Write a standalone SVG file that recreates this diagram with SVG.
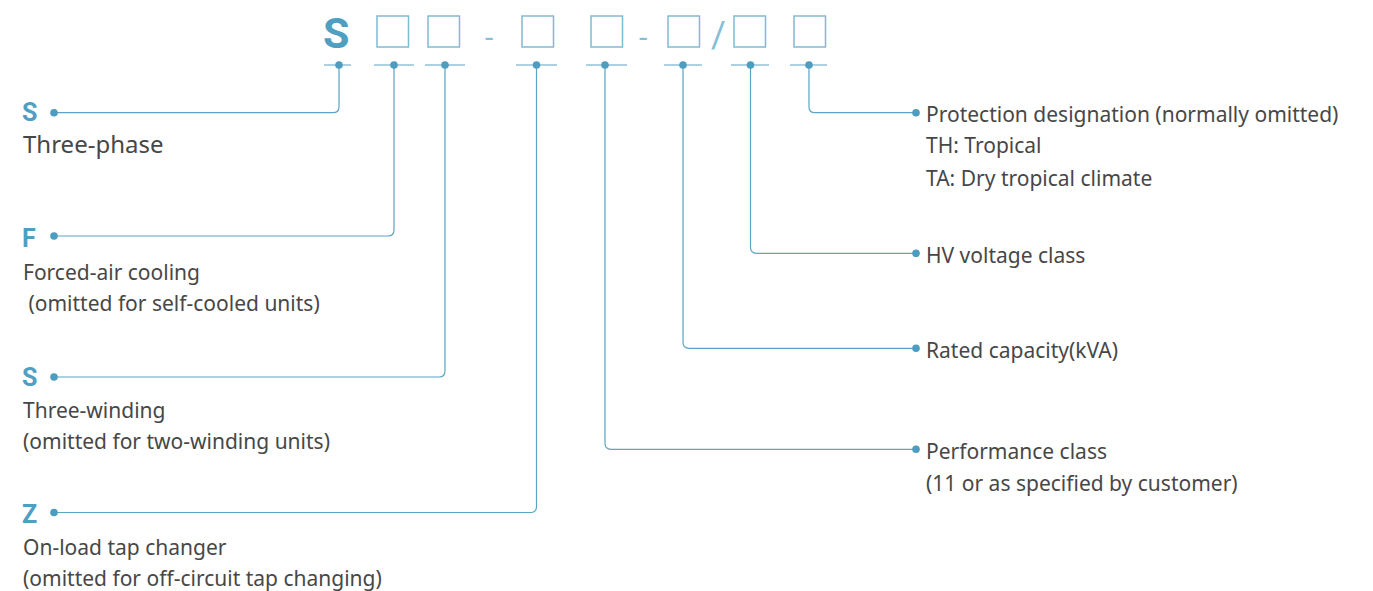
<svg xmlns="http://www.w3.org/2000/svg" width="1373" height="591" viewBox="0 0 1373 591">
<style>
.code{font-family:Roboto,"Liberation Sans",sans-serif;font-weight:700;fill:#4f9fc2}
.sep{font-family:Roboto,"Liberation Sans",sans-serif;fill:#86bfd6}
.box{fill:none;stroke:#7fbad3;stroke-width:1.5}
.tick{stroke:#5ca4c4;stroke-width:1.2;fill:none}
.conn{stroke:#5ca4c4;stroke-width:1.2;fill:none}
.dot{fill:#4d9dc0}
.key{font-family:Roboto,"Liberation Sans",sans-serif;font-weight:700;font-size:25px;fill:#4f9fc2}
.lbl{font-family:"Noto Sans","Liberation Sans",sans-serif;font-size:21px;fill:#474747}
.big{font-size:24px}
</style>
<rect width="1373" height="591" fill="#ffffff"/>
<g id="model-code">
<text class="code" x="323" y="48" font-size="43">S</text>
<rect class="box" x="377" y="16" width="31.5" height="31"/>
<rect class="box" x="428" y="16" width="31.5" height="31"/>
<text class="sep" x="485" y="48" font-size="30">-</text>
<rect class="box" x="522" y="16" width="31.5" height="31"/>
<rect class="box" x="591" y="16" width="31.5" height="31"/>
<text class="sep" x="639" y="48" font-size="30">-</text>
<rect class="box" x="668" y="16" width="31.5" height="31"/>
<text class="sep" x="711" y="47" font-size="36">/</text>
<rect class="box" x="734" y="16" width="31.5" height="31"/>
<rect class="box" x="794" y="16" width="31.5" height="31"/>
</g>
<g id="connectors">
<path class="tick" d="M324 65H351M374 65H414M425 65H465M516 65H557M586 65H627M664 65H702M731 65H769M790 65H827"/>
<path class="conn" d="M339 65V106.7Q339 112.7 333 112.7H54"/>
<path class="conn" d="M394 65V230Q394 236 388 236H54"/>
<path class="conn" d="M445 65V371Q445 377 439 377H54"/>
<path class="conn" d="M536.5 65V506.5Q536.5 512.5 530.5 512.5H54"/>
<path class="conn" d="M605 65V443.3Q605 449.3 611 449.3H916"/>
<path class="conn" d="M683 65V342.3Q683 348.3 689 348.3H916"/>
<path class="conn" d="M750.5 65V247.3Q750.5 253.3 756.5 253.3H916"/>
<path class="conn" d="M809 65V106.7Q809 112.7 815 112.7H916"/>
<circle class="dot" cx="339" cy="65" r="3.8"/>
<circle class="dot" cx="394" cy="65" r="3.8"/>
<circle class="dot" cx="445" cy="65" r="3.8"/>
<circle class="dot" cx="536.5" cy="65" r="3.8"/>
<circle class="dot" cx="605" cy="65" r="3.8"/>
<circle class="dot" cx="683" cy="65" r="3.8"/>
<circle class="dot" cx="750.5" cy="65" r="3.8"/>
<circle class="dot" cx="809" cy="65" r="3.8"/>
</g>
<g id="node-s-three-phase">
<circle class="dot" cx="54" cy="112.7" r="3.8"/>
<text class="key" x="22" y="120.7">S</text>
<text class="lbl big" x="23" y="153.3">Three-phase</text>
</g>
<g id="node-f-forced-air">
<circle class="dot" cx="54" cy="236" r="3.8"/>
<text class="key" x="22" y="246.7">F</text>
<text class="lbl" x="23" y="280">Forced-air cooling</text>
<text class="lbl" x="23" y="310.7" xml:space="preserve"> (omitted for self-cooled units)</text>
</g>
<g id="node-s-three-winding">
<circle class="dot" cx="54" cy="377" r="3.8"/>
<text class="key" x="22" y="386">S</text>
<text class="lbl" x="23" y="418.3">Three-winding</text>
<text class="lbl" x="23" y="449.3">(omitted for two-winding units)</text>
</g>
<g id="node-z-on-load">
<circle class="dot" cx="54" cy="512.5" r="3.8"/>
<text class="key" x="22" y="523.3">Z</text>
<text class="lbl" x="23" y="555">On-load tap changer</text>
<text class="lbl" x="23" y="586">(omitted for off-circuit tap changing)</text>
</g>
<g id="node-protection">
<circle class="dot" cx="916" cy="112.7" r="3.8"/>
<text class="lbl" x="926" y="122.3">Protection designation (normally omitted)</text>
<text class="lbl" x="926" y="153.3">TH: Tropical</text>
<text class="lbl" x="926" y="185.7">TA: Dry tropical climate</text>
</g>
<g id="node-hv-voltage">
<circle class="dot" cx="916" cy="253.3" r="3.8"/>
<text class="lbl" x="926" y="263.3">HV voltage class</text>
</g>
<g id="node-rated-capacity">
<circle class="dot" cx="916" cy="348.3" r="3.8"/>
<text class="lbl" x="926" y="358.3">Rated capacity(kVA)</text>
</g>
<g id="node-performance">
<circle class="dot" cx="916" cy="449.3" r="3.8"/>
<text class="lbl" x="926" y="459.3">Performance class</text>
<text class="lbl" x="926" y="490.7">(11 or as specified by customer)</text>
</g>
</svg>
